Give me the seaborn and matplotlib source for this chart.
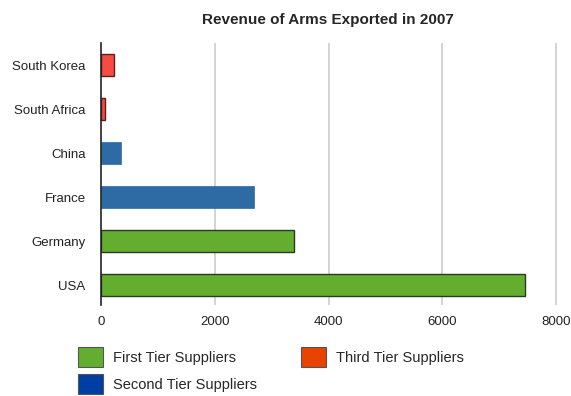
import matplotlib
matplotlib.use("Agg")
import matplotlib.pyplot as plt
import seaborn as sns
import pandas as pd
from matplotlib.patches import Patch

countries = ["South Korea", "South Africa", "China", "France", "Germany", "USA"]
revenue = [230, 75, 355, 2690, 3395, 7454]
tiers = ["Third Tier Suppliers", "Third Tier Suppliers", "Second Tier Suppliers",
         "Second Tier Suppliers", "First Tier Suppliers", "First Tier Suppliers"]
tier_order = ["First Tier Suppliers", "Second Tier Suppliers", "Third Tier Suppliers"]
x_ticks = [0, 2000, 4000, 6000, 8000]

bar_colors = {"First Tier Suppliers": "#63ae2f",
              "Second Tier Suppliers": "#2e6aa3",
              "Third Tier Suppliers": "#f64b42"}
bar_edges = {"First Tier Suppliers": "#2a3a22",
             "Second Tier Suppliers": "none",
             "Third Tier Suppliers": "#5a2020"}
legend_colors = {"First Tier Suppliers": "#63ae2f",
                 "Second Tier Suppliers": "#003ea6",
                 "Third Tier Suppliers": "#e84300"}

df = pd.DataFrame({"country": countries, "revenue": revenue, "tier": tiers})

sns.set_style("white")
plt.rcParams["font.family"] = ["Liberation Sans", "DejaVu Sans"]

fig = plt.figure(figsize=(5.71, 3.96), dpi=100)
ax = fig.add_axes([101 / 571, 1 - 305 / 396, (562 - 101) / 571, (305 - 43) / 396])

sns.barplot(data=df, y="country", x="revenue", hue="tier", order=countries,
            hue_order=tier_order, palette=bar_colors, dodge=False,
            width=0.5, legend=False, ax=ax, orient="h")

# style each bar by its tier
for patch in ax.patches:
    if patch.get_width() == 0:
        continue
    idx = int(round(patch.get_y() + patch.get_height() / 2))
    tier = tiers[idx]
    edge = bar_edges[tier]
    patch.set_facecolor(bar_colors[tier])
    if edge == "none":
        patch.set_edgecolor(bar_colors[tier])
        patch.set_linewidth(0.5)
    else:
        patch.set_edgecolor(edge)
        patch.set_linewidth(1.0)
    patch.set_zorder(3)

ax.set_xlim(0, 8100)
ax.set_ylim(5.45, -0.5)
ax.set_xticks(x_ticks)
ax.set_xticklabels([str(t) for t in x_ticks], fontsize=9.5, color="#222222")
ax.tick_params(axis="y", labelsize=9.5, labelcolor="#222222", length=0, pad=11)
ax.tick_params(axis="x", length=0, pad=8)
ax.set_xlabel("")
ax.set_ylabel("")
for x in x_ticks[1:]:
    ax.axvline(x, color="#cccccc", lw=1.2, zorder=1)
for s in ["top", "right", "bottom"]:
    ax.spines[s].set_visible(False)
ax.spines["left"].set_color("#222222")
ax.spines["left"].set_linewidth(1.2)
ax.spines["left"].set_zorder(4)

fig.text(328 / 571, 1 - 20 / 396, "Revenue of Arms Exported in 2007",
         ha="center", va="center", fontsize=11, fontweight="bold")

handles = [Patch(facecolor=legend_colors[t], edgecolor="#555555", linewidth=0.8)
           for t in tier_order]
fig.legend(handles, tier_order, ncol=2, loc="upper left",
           bbox_to_anchor=(78 / 571, 1 - 347 / 396), frameon=False,
           fontsize=10.5, handlelength=1.7, handleheight=1.75,
           handletextpad=0.7, columnspacing=3.0, labelspacing=0.45,
           borderaxespad=0, borderpad=0)

fig.savefig("out.png", dpi=100)
